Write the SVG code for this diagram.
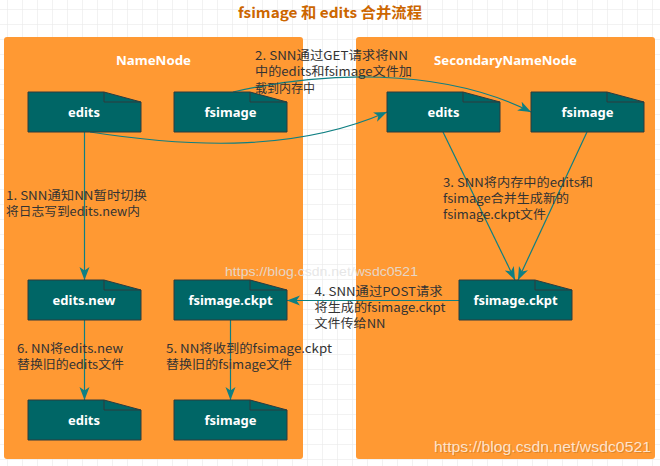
<svg xmlns="http://www.w3.org/2000/svg" xmlns:xlink="http://www.w3.org/1999/xlink" width="660" height="466" viewBox="0 0 660 466">
<style>
.bg{fill:#ffffff}
.panel{fill:#ff9933}
.doc{fill:#006666;stroke:#2f3b3d;stroke-width:1}
.fold{fill:none;stroke:#2f3b3d;stroke-width:1}
.ntext{font-family:"Noto Sans","Noto Sans CJK SC",sans-serif;font-size:13px;font-weight:bold;fill:#ffffff;text-anchor:middle}
.head{font-family:"Noto Sans","Noto Sans CJK SC",sans-serif;font-size:13px;font-weight:bold;fill:#ffffff}
.title{font-family:"Noto Sans CJK SC",sans-serif;font-size:14.5px;font-weight:bold;fill:#cc6600}
.lbl{font-family:"Noto Sans CJK SC",sans-serif;font-size:12px;fill:#333333}
.edge{fill:none;stroke:#0e7f82;stroke-width:1.2}
.wm{font-family:"Liberation Sans","Noto Sans",sans-serif}
</style>
<defs>
<pattern id="grid" width="15" height="15" patternUnits="userSpaceOnUse" x="7" y="9">
<path d="M15 0 H0 V15" fill="none" stroke="#e6e6e6" stroke-width="1"/>
</pattern>
<marker id="arr" markerUnits="userSpaceOnUse" markerWidth="14" markerHeight="11" refX="13" refY="5" orient="auto">
<path d="M0,0 L13,5 L0,10 L3.5,5 Z" fill="#0e7f82"/>
</marker>
<path id="doc" d="M0,0 H76 L113,10 V40 H0 Z"/>
<path id="fold" d="M76,0 V10 H113"/>
</defs>

<rect class="bg" x="0" y="0" width="660" height="466"/>
<rect x="0" y="0" width="660" height="466" fill="url(#grid)"/>

<text class="title" x="238" y="17.5" textLength="184" lengthAdjust="spacingAndGlyphs">fsimage 和 edits 合并流程</text>

<g id="namenode">
<rect class="panel" x="4" y="37" width="299" height="422" rx="3"/>
<text class="head" x="116" y="65" textLength="75" lengthAdjust="spacingAndGlyphs">NameNode</text>
</g>
<g id="secondarynamenode">
<rect class="panel" x="356" y="37" width="299" height="422" rx="3"/>
<text class="head" x="434" y="65" textLength="143" lengthAdjust="spacingAndGlyphs">SecondaryNameNode</text>
</g>

<g id="connectors">
<path id="e1" class="edge" d="M84.5,132 V280" marker-end="url(#arr)"/>
<path id="e2" class="edge" d="M90,132 C200,149 300,150 387,112" marker-end="url(#arr)"/>
<path id="e3" class="edge" d="M233,92 C320,72 440,66 531,112" marker-end="url(#arr)"/>
<path id="e4" class="edge" d="M443,132 L515,280" marker-end="url(#arr)"/>
<path id="e5" class="edge" d="M587,132 L518,280" marker-end="url(#arr)"/>
<path id="e6" class="edge" d="M459,300.5 H287" marker-end="url(#arr)"/>
<path id="e7" class="edge" d="M84.5,320 V400" marker-end="url(#arr)"/>
<path id="e8" class="edge" d="M230.5,320 V400" marker-end="url(#arr)"/>
</g>

<g id="nn-edits" transform="translate(28,92)">
<use xlink:href="#doc" class="doc"/><use xlink:href="#fold" class="fold"/>
<text class="ntext" x="56" y="24.5">edits</text>
</g>
<g id="nn-fsimage" transform="translate(174,92)">
<use xlink:href="#doc" class="doc"/><use xlink:href="#fold" class="fold"/>
<text class="ntext" x="56.5" y="24.5">fsimage</text>
</g>
<g id="snn-edits" transform="translate(387,92)">
<use xlink:href="#doc" class="doc"/><use xlink:href="#fold" class="fold"/>
<text class="ntext" x="56.5" y="24.5">edits</text>
</g>
<g id="snn-fsimage" transform="translate(531,92)">
<use xlink:href="#doc" class="doc"/><use xlink:href="#fold" class="fold"/>
<text class="ntext" x="56.5" y="24.5">fsimage</text>
</g>
<g id="nn-editsnew" transform="translate(28,280)">
<use xlink:href="#doc" class="doc"/><use xlink:href="#fold" class="fold"/>
<text class="ntext" x="56" y="24.5">edits.new</text>
</g>
<g id="nn-ckpt" transform="translate(174,280)">
<use xlink:href="#doc" class="doc"/><use xlink:href="#fold" class="fold"/>
<text class="ntext" x="56.5" y="24.5">fsimage.ckpt</text>
</g>
<g id="snn-ckpt" transform="translate(459,280)">
<use xlink:href="#doc" class="doc"/><use xlink:href="#fold" class="fold"/>
<text class="ntext" x="56.5" y="24.5">fsimage.ckpt</text>
</g>
<g id="nn-edits-final" transform="translate(28,400)">
<use xlink:href="#doc" class="doc"/><use xlink:href="#fold" class="fold"/>
<text class="ntext" x="56" y="24.5">edits</text>
</g>
<g id="nn-fsimage-final" transform="translate(174,400)">
<use xlink:href="#doc" class="doc"/><use xlink:href="#fold" class="fold"/>
<text class="ntext" x="56.5" y="24.5">fsimage</text>
</g>

<g id="labels">
<text class="lbl" x="255" y="59.5" textLength="153" lengthAdjust="spacingAndGlyphs">2. SNN通过GET请求将NN</text>
<text class="lbl" x="255" y="76" textLength="157" lengthAdjust="spacingAndGlyphs">中的edits和fsimage文件加</text>
<text class="lbl" x="255" y="92.5">载到内存中</text>

<text class="lbl" x="6" y="200" textLength="141" lengthAdjust="spacingAndGlyphs">1. SNN通知NN暂时切换</text>
<text class="lbl" x="6" y="216" textLength="134" lengthAdjust="spacingAndGlyphs">将日志写到edits.new内</text>

<text class="lbl" x="443" y="186.5" textLength="150" lengthAdjust="spacingAndGlyphs">3. SNN将内存中的edits和</text>
<text class="lbl" x="443" y="203" textLength="126" lengthAdjust="spacingAndGlyphs">fsimage合并生成新的</text>
<text class="lbl" x="443" y="219" textLength="103" lengthAdjust="spacingAndGlyphs">fsimage.ckpt文件</text>

<text class="lbl" x="314.5" y="295.5" textLength="128" lengthAdjust="spacingAndGlyphs">4. SNN通过POST请求</text>
<text class="lbl" x="314.5" y="312" textLength="131" lengthAdjust="spacingAndGlyphs">将生成的fsimage.ckpt</text>
<text class="lbl" x="314.5" y="328" textLength="71" lengthAdjust="spacingAndGlyphs">文件传给NN</text>

<text class="lbl" x="17" y="353" textLength="106" lengthAdjust="spacingAndGlyphs">6. NN将edits.new</text>
<text class="lbl" x="17" y="368.5" textLength="107" lengthAdjust="spacingAndGlyphs">替换旧的edits文件</text>

<text class="lbl" x="166" y="353" textLength="166" lengthAdjust="spacingAndGlyphs">5. NN将收到的fsimage.ckpt</text>
<text class="lbl" x="166" y="368.5" textLength="126" lengthAdjust="spacingAndGlyphs">替换旧的fsimage文件</text>
</g>

<text class="wm" x="225" y="275.5" font-size="12.5" fill="#e2e2e2" fill-opacity="0.85" textLength="193" lengthAdjust="spacingAndGlyphs">https://blog.csdn.net/wsdc0521</text>
<text class="wm" x="435" y="452.5" font-size="15" fill="#7a4a1a" fill-opacity="0.25" textLength="217" lengthAdjust="spacingAndGlyphs">https://blog.csdn.net/wsdc0521</text>
<text class="wm" x="434" y="451.5" font-size="15" fill="#ffffff" fill-opacity="0.75" textLength="217" lengthAdjust="spacingAndGlyphs">https://blog.csdn.net/wsdc0521</text>
</svg>
